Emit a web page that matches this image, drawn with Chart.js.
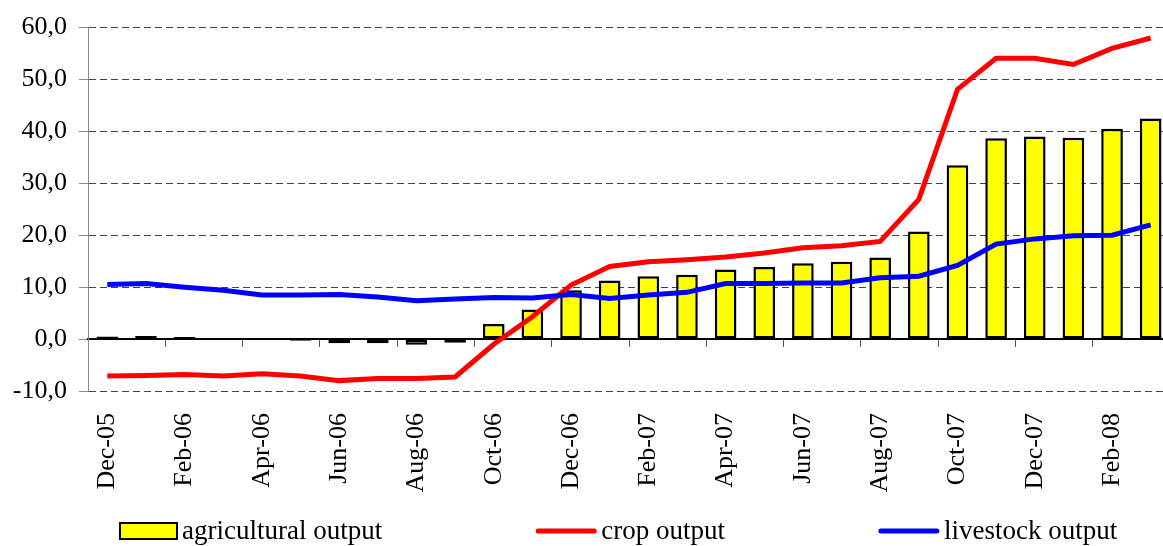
<!DOCTYPE html>
<html>
<head>
<meta charset="utf-8">
<script src="https://cdn.jsdelivr.net/npm/chart.js@4/dist/chart.umd.min.js"></script>
<style>
  html, body { margin: 0; padding: 0; background: #fff; overflow: hidden; }
  #wrap { width: 1175px; height: 546px; }
</style>
</head>
<body>
<div id="wrap"><canvas id="chart" width="1175" height="546"></canvas></div>
<script>
// Monthly categories Dec-05 .. Mar-08
const months = ['Dec-05', 'Jan-06', 'Feb-06', 'Mar-06', 'Apr-06', 'May-06', 'Jun-06', 'Jul-06',
  'Aug-06', 'Sep-06', 'Oct-06', 'Nov-06', 'Dec-06', 'Jan-07', 'Feb-07', 'Mar-07', 'Apr-07',
  'May-07', 'Jun-07', 'Jul-07', 'Aug-07', 'Sep-07', 'Oct-07', 'Nov-07', 'Dec-07', 'Jan-08',
  'Feb-08', 'Mar-08'];

const agricultural = [0.5, 0.6, 0.4, 0.1, -0.1, -0.3, -0.8, -0.8, -1.1, -0.7, 2.9, 5.7, 9.4, 11.3,
  12.1, 12.4, 13.4, 13.9, 14.6, 14.9, 15.7, 20.7, 33.5, 38.7, 39.0, 38.8, 40.5, 42.5];
const crop = [-7.1, -7.0, -6.8, -7.1, -6.7, -7.1, -8.0, -7.6, -7.6, -7.3, -1.0, 4.3, 10.4, 14.0,
  14.9, 15.3, 15.8, 16.6, 17.6, 18.0, 18.8, 26.9, 48.1, 54.1, 54.1, 52.9, 56.0, 58.0];
const livestock = [10.5, 10.7, 10.0, 9.4, 8.5, 8.5, 8.6, 8.1, 7.4, 7.7, 8.0, 7.9, 8.6, 7.8,
  8.5, 9.0, 10.7, 10.7, 10.8, 10.8, 11.8, 12.1, 14.2, 18.3, 19.3, 19.9, 20.0, 22.0];

const seriesNames = ['agricultural output', 'crop output', 'livestock output'];

const fontFamily = "'Liberation Serif', 'Times New Roman', serif";
const font = { family: fontFamily, size: 26 };

// legend spread out like the Excel original (wide even gaps between items)
const spreadLegend = {
  id: 'spreadLegend',
  afterDraw(chart) {
    const ctx = chart.ctx;
    const cy = 531;
    let x = 120;
    ctx.save();
    ctx.font = '27px ' + fontFamily;
    ctx.textBaseline = 'middle';
    chart.data.datasets.forEach(function(ds) {
      let w;
      if (ds.type === 'line') {
        w = 60;
        ctx.strokeStyle = ds.borderColor;
        ctx.lineWidth = ds.borderWidth;
        ctx.lineCap = 'round';
        ctx.beginPath();
        ctx.moveTo(x + 2, cy);
        ctx.lineTo(x + w - 2, cy);
        ctx.stroke();
      } else {
        w = 57;
        ctx.fillStyle = ds.backgroundColor;
        ctx.fillRect(x, cy - 8, w, 16);
        ctx.strokeStyle = ds.borderColor;
        ctx.lineWidth = 2;
        ctx.strokeRect(x, cy - 8, w, 16);
      }
      ctx.fillStyle = '#000';
      ctx.fillText(ds.label, x + w + 5, cy + 1);
      x += w + 5 + ctx.measureText(ds.label).width + 154;
    });
    ctx.restore();
  }
};

new Chart(document.getElementById('chart'), {
  type: 'bar',
  data: {
    labels: months,
    datasets: [
      {
        label: seriesNames[0],
        data: agricultural,
        backgroundColor: '#ffff00',
        borderColor: '#000000',
        borderWidth: 2.5,
        borderSkipped: false,
        barPercentage: 0.56,
        categoryPercentage: 1,
        order: 2
      },
      {
        type: 'line',
        label: seriesNames[1],
        data: crop,
        borderColor: '#ff0000',
        backgroundColor: '#ff0000',
        borderWidth: 5,
        pointRadius: 0,
        tension: 0,
        order: 1
      },
      {
        type: 'line',
        label: seriesNames[2],
        data: livestock,
        borderColor: '#0000ff',
        backgroundColor: '#0000ff',
        borderWidth: 5,
        pointRadius: 0,
        tension: 0,
        order: 0
      }
    ]
  },
  plugins: [spreadLegend],
  options: {
    responsive: false,
    animation: false,
    layout: { padding: { left: 0, right: 5, top: 25, bottom: 155 } },
    scales: {
      x: {
        position: { y: 0 },
        offset: true,
        grid: {
          offset: true,
          drawOnChartArea: false,
          drawTicks: true,
          tickLength: 7,
          tickWidth: 1,
          tickColor: function(ctx) { return ctx.index % 2 === 0 ? '#555' : 'rgba(0,0,0,0)'; }
        },
        border: { display: true, color: '#000', width: 2 },
        ticks: {
          autoSkip: false,
          minRotation: 90,
          maxRotation: 90,
          padding: 67,
          color: '#000',
          font: font,
          callback: function(value, index) {
            return index % 2 === 0 ? months[index] : '';
          }
        },
        afterFit: function(scale) {
          // labels hang below the plot, keep them from squeezing the plot width
          scale.paddingLeft = 0;
          scale.paddingRight = 0;
        }
      },
      y: {
        min: -10,
        max: 60,
        grid: {
          color: '#444',
          lineWidth: 1,
          tickLength: 9,
          tickColor: '#888',
          tickBorderDash: []
        },
        border: { display: true, color: '#888', width: 1, dash: [7, 4] },
        ticks: {
          stepSize: 10,
          autoSkip: false,
          padding: 12,
          color: '#000',
          font: font,
          callback: function(v) { return v.toFixed(1).replace('.', ','); }
        },
        afterFit: function(scale) { scale.width = 88; }
      }
    },
    plugins: {
      legend: { display: false },
      tooltip: { enabled: false }
    }
  }
});
</script>
</body>
</html>
